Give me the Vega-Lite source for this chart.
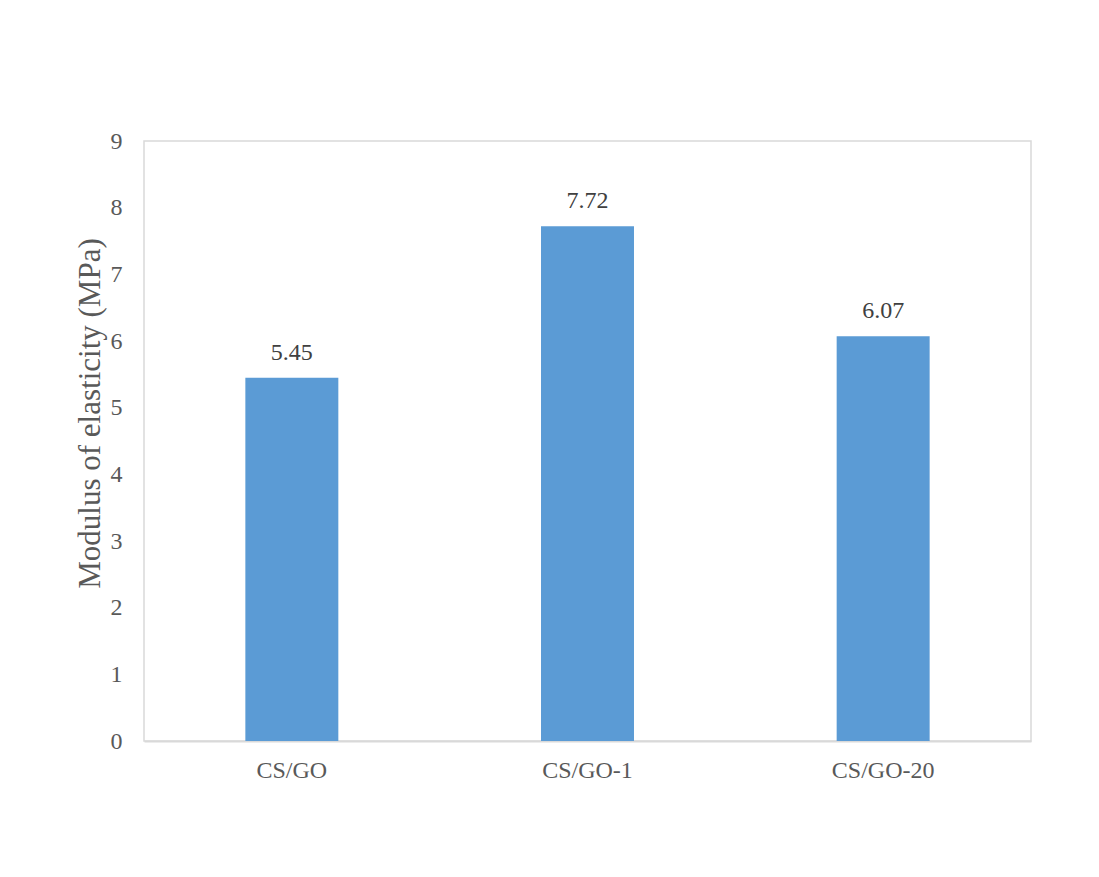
{
  "$schema": "https://vega.github.io/schema/vega-lite/v6.json",
  "width": 887,
  "height": 600,
  "autosize": {"type": "none"},
  "padding": {"left": 144, "top": 141, "right": 68, "bottom": 136},
  "background": "white",
  "config": {
    "font": "Liberation Serif",
    "view": {"stroke": "#D9D9D9", "strokeWidth": 1.5}
  },
  "data": {
    "values": [
      {"sample": "CS/GO", "modulus": 5.45},
      {"sample": "CS/GO-1", "modulus": 7.72},
      {"sample": "CS/GO-20", "modulus": 6.07}
    ]
  },
  "encoding": {
    "x": {
      "field": "sample",
      "type": "nominal",
      "sort": null,
      "scale": {"paddingInner": 0.6855, "paddingOuter": 0.3428},
      "axis": {
        "title": null,
        "labelAngle": 0,
        "labelFontSize": 24,
        "labelColor": "#595959",
        "labelPadding": 17,
        "ticks": false,
        "domainColor": "#D9D9D9",
        "domainWidth": 2,
        "grid": false
      }
    },
    "y": {
      "field": "modulus",
      "type": "quantitative",
      "scale": {"domain": [0, 9]},
      "axis": {
        "title": "Modulus of elasticity (MPa)",
        "values": [0, 1, 2, 3, 4, 5, 6, 7, 8, 9],
        "labelFontSize": 24,
        "labelColor": "#595959",
        "labelPadding": 22,
        "ticks": false,
        "domain": false,
        "grid": false,
        "titleFontSize": 31,
        "titleFontWeight": "normal",
        "titleColor": "#595959",
        "titleAngle": -90,
        "titleX": -45,
        "titleY": 272,
        "titleAlign": "center",
        "titleBaseline": "alphabetic"
      }
    }
  },
  "layer": [
    {"mark": {"type": "bar", "color": "#5B9BD5"}},
    {
      "mark": {"type": "text", "dy": -18, "baseline": "alphabetic", "fontSize": 24, "color": "#404040"},
      "encoding": {"text": {"field": "modulus", "type": "quantitative", "format": ".2f"}}
    }
  ]
}
